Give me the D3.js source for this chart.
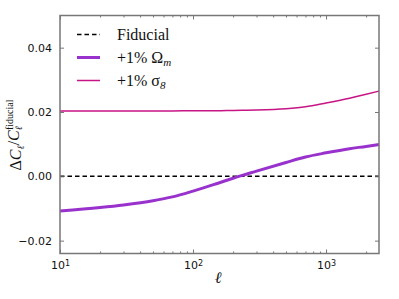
<!DOCTYPE html>
<html>
<head>
<meta charset="utf-8">
<script src="https://cdn.jsdelivr.net/npm/d3@7"></script>
<style>
  body { margin: 0; background: #fff; }
  .tick text { font-family: "DejaVu Sans", sans-serif; font-size: 11px; fill: #111; }
  .math { font-family: "Liberation Serif", serif; fill: #111; }
</style>
</head>
<body>
<svg id="chart" width="399" height="299"></svg>
<script>
// multipoles and fractional changes
var ell = [10, 20, 30, 50, 70, 100, 150, 200, 300, 500, 700, 1000, 1500, 2000, 2500];
var dOmegaM = [-0.0108, -0.0097, -0.0089, -0.0076, -0.0064, -0.0046, -0.0023, -0.0006,
               0.0016, 0.0043, 0.0060, 0.0073, 0.0086, 0.0093, 0.0099];
var dSigma8 = [0.0203, 0.0203, 0.0203, 0.0203, 0.0203, 0.0204, 0.0204, 0.0205,
               0.0206, 0.0210, 0.0216, 0.0228, 0.0243, 0.0255, 0.0265];
var fiducial = [0, 0];
var fiducialEll = [10, 2500];
var yTicks = [-0.02, 0.00, 0.02, 0.04];
var xMajor = [10, 100, 1000];

var margin = {top: 15.5, right: 20, bottom: 45.5, left: 60},
    width = 399 - margin.left - margin.right,
    height = 299 - margin.top - margin.bottom;

var svg = d3.select("#chart");
var g = svg.append("g")
  .attr("transform", "translate(" + margin.left + "," + margin.top + ")");

var x = d3.scaleLog().domain([10, 2500]).range([0, width]);
var y = d3.scaleLinear().domain([-0.024, 0.05]).range([height, 0]);

var axisColor = "#777";

// minor ticks 2..9 per decade
var xMinor = [];
[10, 100, 1000].forEach(function(d) {
  for (var k = 2; k <= 9; k++) if (d * k <= 2500) xMinor.push(d * k);
});

var line = d3.line()
  .x(function(d) { return x(d[0]); })
  .y(function(d) { return y(d[1]); })
  .curve(d3.curveMonotoneX);

// fiducial
g.append("path")
  .datum(d3.zip(fiducialEll, fiducial))
  .attr("d", line)
  .attr("fill", "none")
  .attr("stroke", "#000")
  .attr("stroke-width", 1.5)
  .attr("stroke-dasharray", "4.5,3");

g.append("path")
  .datum(d3.zip(ell, dOmegaM))
  .attr("d", line)
  .attr("fill", "none")
  .attr("stroke", "#9932cc")
  .attr("stroke-width", 3);

g.append("path")
  .datum(d3.zip(ell, dSigma8))
  .attr("d", line)
  .attr("fill", "none")
  .attr("stroke", "#c71585")
  .attr("stroke-width", 1.5);

// axes: ticks point inward
function styleAxis(sel) {
  sel.select(".domain").remove();
  sel.selectAll(".tick line").attr("stroke", axisColor);
}

g.append("g")
  .attr("transform", "translate(0," + height + ")")
  .call(d3.axisBottom(x).tickValues(xMajor).tickSizeInner(-4).tickSizeOuter(0).tickPadding(8)
    .tickFormat(function() { return ""; }))
  .call(styleAxis)
  .selectAll(".tick text")
  .each(function(d) {
    var t = d3.select(this);
    t.append("tspan").text("10");
    t.append("tspan").attr("dy", "-0.45em").attr("font-size", "8px").text(Math.round(Math.log10(d)));
  });

g.append("g")
  .attr("transform", "translate(0," + height + ")")
  .call(d3.axisBottom(x).tickValues(xMinor).tickSizeInner(-2).tickSizeOuter(0).tickFormat(""))
  .call(styleAxis);

g.append("g")
  .call(d3.axisTop(x).tickValues(xMajor).tickSizeInner(-4).tickSizeOuter(0).tickFormat(""))
  .call(styleAxis);
g.append("g")
  .call(d3.axisTop(x).tickValues(xMinor).tickSizeInner(-2).tickSizeOuter(0).tickFormat(""))
  .call(styleAxis);

g.append("g")
  .call(d3.axisLeft(y).tickValues(yTicks).tickSizeInner(-4).tickSizeOuter(0).tickPadding(8)
    .tickFormat(function(d) { return d3.format(".2f")(d).replace("-", "\u2212"); }))
  .call(styleAxis);

g.append("g")
  .attr("transform", "translate(" + width + ",0)")
  .call(d3.axisRight(y).tickValues(yTicks).tickSizeInner(-4).tickSizeOuter(0).tickFormat(""))
  .call(styleAxis);

// frame
g.append("rect")
  .attr("width", width)
  .attr("height", height)
  .attr("fill", "none")
  .attr("stroke", axisColor)
  .attr("stroke-width", 1.5);

// legend
var legendItems = [
  {label: "Fiducial", color: "#000", w: 1.5, dash: "4.5,3"},
  {label: "+1% \u03A9", sub: "m", color: "#9932cc", w: 3, dash: null},
  {label: "+1% \u03C3", sub: "8", color: "#c71585", w: 1.5, dash: null}
];

var legend = svg.selectAll(".legend")
  .data(legendItems)
  .enter().append("g")
  .attr("class", "legend")
  .attr("transform", function(d, i) { return "translate(77," + (34.5 + i * 23) + ")"; });

legend.append("line")
  .attr("x1", 0).attr("x2", 23)
  .attr("stroke", function(d) { return d.color; })
  .attr("stroke-width", function(d) { return d.w; })
  .attr("stroke-dasharray", function(d) { return d.dash; });

legend.append("text")
  .attr("class", "math")
  .attr("x", 40)
  .attr("y", 5)
  .style("font-size", "16px")
  .each(function(d) {
    var t = d3.select(this);
    t.append("tspan").text(d.label);
    if (d.sub) t.append("tspan").attr("dy", "0.3em").style("font-size", "11px").style("font-style", "italic").text(d.sub);
  });

// axis labels
svg.append("text")
  .attr("class", "math")
  .attr("x", 218)
  .attr("y", 283)
  .attr("text-anchor", "middle")
  .style("font-size", "16px")
  .style("font-style", "italic")
  .text("\u2113");

var ylab = svg.append("text")
  .attr("class", "math")
  .attr("transform", "translate(21,135) rotate(-90)")
  .attr("text-anchor", "middle")
  .style("font-size", "16px");
ylab.append("tspan").text("\u0394");
ylab.append("tspan").style("font-style", "italic").text("C");
ylab.append("tspan").attr("dy", "0.3em").style("font-size", "10px").style("font-style", "italic").text("\u2113");
ylab.append("tspan").attr("dy", "-0.3em").text("/");
ylab.append("tspan").style("font-style", "italic").text("C");
ylab.append("tspan").attr("dy", "0.3em").style("font-size", "10px").style("font-style", "italic").text("\u2113");
ylab.append("tspan").attr("dx", "-4").attr("dy", "-0.95em").style("font-size", "10px").text("fiducial");
</script>
</body>
</html>
